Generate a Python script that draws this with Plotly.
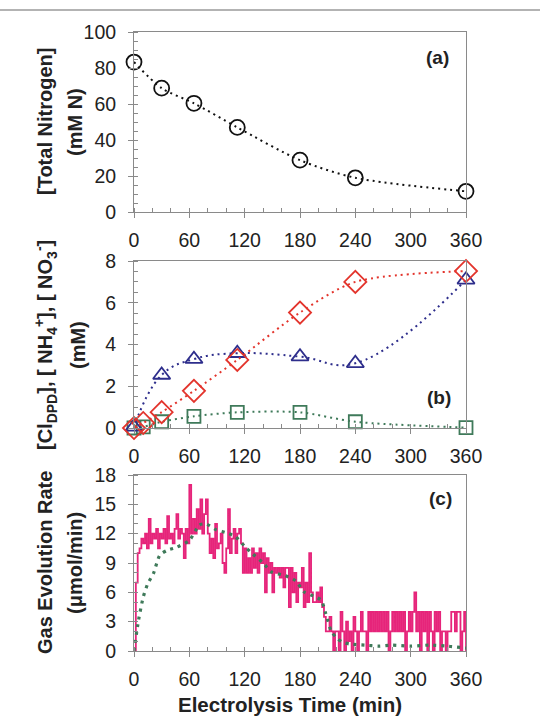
import plotly.graph_objects as go

# ---------------- data ----------------
# Panel (a): total nitrogen
t_a = [0, 30, 65, 112, 180, 240, 360]
total_n = [83.3, 68.8, 60.4, 47.0, 28.8, 19.0, 11.5]

# Panel (b)
t_cl = [0, 10, 30, 65, 112, 180, 240, 360]
cl_dpd = [0.0, 0.24, 0.76, 1.78, 3.26, 5.53, 7.0, 7.52]
t_nh4 = [0, 30, 65, 112, 180, 240, 360]
nh4 = [0.05, 2.54, 3.3, 3.58, 3.42, 3.1, 7.1]
t_no3 = [0, 10, 30, 65, 112, 180, 240, 360]
no3 = [0.0, 0.05, 0.3, 0.56, 0.75, 0.75, 0.3, 0.02]

# Panel (c): measured gas evolution rate (every 2 min)
t_gas = list(range(0, 361, 2))
gas_rate = [
    0, 7, 10, 10.5, 11.5, 11, 12, 10.5, 13.5, 11, 12,
    11.5, 12.5, 10.5, 12, 11.5, 12.5, 11, 13.8, 11.5, 12,
    11, 12.5, 14, 11.5, 12.5, 12, 9.5, 12.5, 11, 17,
    12, 13.5, 12, 14.5, 12.5, 15.5, 12, 14, 15.5, 12,
    10, 11.5, 9.5, 13, 10.5, 11, 12, 9, 8, 10.5,
    14.5, 10, 11.5, 12.5, 10, 12, 12.5, 11, 8, 10.5,
    8, 9.5, 8, 10.5, 8.5, 10, 8, 10.5, 9, 10,
    6, 9.5, 8, 9, 6, 8.5, 8, 8.5, 7.5, 8.5,
    6.5, 8.5, 8.5, 4.5, 8.5, 6, 8, 5, 7, 6.5,
    8.5, 4.5, 7, 5, 10, 6, 5, 5, 6, 5,
    6.5, 4.5, 3.5, 2, 2, 3.5, 2, 0, 2, 2,
    0, 4, 2, 0, 3, 1, 2, 0, 3.5, 2,
    0, 2, 4, 2, 2, 0, 4, 2, 4, 2,
    4, 2, 4, 2, 4, 2, 4, 0, 2, 4,
    2, 4, 2, 4, 2, 4, 0, 2, 4, 2,
    4, 6, 2, 4, 0, 4, 2, 4, 0, 4,
    2, 0, 4, 2, 4, 0, 2, 2, 0, 2,
    2, 4, 4, 2, 4, 4, 0, 2, 4, 0,
]
# Panel (c): model curve
t_model = [0, 5, 10, 15, 21, 28, 36, 46, 60, 71, 78, 89, 100, 110, 121, 128, 140, 149,
           164, 175, 185, 195, 203, 208, 214, 220, 226, 235, 250, 265, 280, 300, 320, 340, 360]
model_rate = [0, 3.2, 5.5, 6.9, 7.9, 9.8, 10.3, 10.6, 11.3, 12.9, 13.0, 12.4, 12.1, 11.7, 10.6,
              10.0, 9.0, 8.1, 7.7, 7.2, 6.0, 5.6, 5.2, 3.8, 2.0, 1.3, 0.9, 0.7, 0.6, 0.5,
              0.6, 0.5, 0.6, 0.5, 0.3]

# ---------------- layout helpers ----------------
W, H = 540, 716
GRAY = "#8a8a8a"
FONT = "Liberation Sans, Arial, sans-serif"
TXT = "#222222"


def fx(p):
    return p / W


def fy(p):
    return 1 - p / H


X_DOM = [fx(134), fx(466)]


def xaxis(anchor):
    return dict(
        domain=X_DOM, anchor=anchor, range=[0, 360], tick0=0, dtick=60,
        ticks="outside", ticklen=5, tickwidth=1, tickcolor=GRAY,
        showline=True, linecolor=GRAY, linewidth=1, mirror=True,
        showgrid=False, zeroline=False, automargin=False,
        minor=dict(tick0=0, dtick=20, ticks="inside", ticklen=4, tickcolor=GRAY, showgrid=False),
        tickfont=dict(family=FONT, size=19.5, color=TXT), ticklabelstandoff=6,
    )


def yaxis(anchor, top, bottom, rng, dtick, mdtick):
    return dict(
        domain=[fy(bottom), fy(top)], anchor=anchor, range=rng, tick0=0, dtick=dtick,
        ticks="outside", ticklen=5, tickwidth=1, tickcolor=GRAY,
        showline=True, linecolor=GRAY, linewidth=1, mirror=True,
        showgrid=False, zeroline=False, automargin=False,
        minor=dict(tick0=0, dtick=mdtick, ticks="inside", ticklen=4, tickcolor=GRAY, showgrid=False),
        tickfont=dict(family=FONT, size=19.5, color=TXT), ticklabelstandoff=8,
    )


fig = go.Figure()

# Panel (a)
fig.add_trace(go.Scatter(
    x=t_a, y=total_n, mode="lines+markers", xaxis="x", yaxis="y", cliponaxis=False,
    line=dict(color="#111111", width=2, dash="2px,4px", shape="spline", smoothing=0.8),
    marker=dict(symbol="circle-open", size=15, color="#111111", line=dict(width=1.8)),
))

# Panel (b)
fig.add_trace(go.Scatter(
    x=t_no3, y=no3, mode="lines+markers", xaxis="x2", yaxis="y2", cliponaxis=False,
    line=dict(color="#3f7a5a", width=2, dash="2px,4px", shape="spline", smoothing=0.8),
    marker=dict(symbol="square-open", size=13, color="#3f7a5a", line=dict(width=1.8)),
))
fig.add_trace(go.Scatter(
    x=t_nh4, y=nh4, mode="lines+markers", xaxis="x2", yaxis="y2", cliponaxis=False,
    line=dict(color="#2e2e8c", width=2, dash="2px,4px", shape="spline", smoothing=1.2),
    marker=dict(symbol="triangle-up-open", size=15, color="#2e2e8c", line=dict(width=1.8)),
))
fig.add_trace(go.Scatter(
    x=t_cl, y=cl_dpd, mode="lines+markers", xaxis="x2", yaxis="y2", cliponaxis=False,
    line=dict(color="#e3342c", width=2, dash="2px,4px", shape="spline", smoothing=0.8),
    marker=dict(symbol="diamond-open", size=17, color="#e3342c", line=dict(width=1.8)),
))

# Panel (c)
fig.add_trace(go.Scatter(
    x=t_gas, y=gas_rate, mode="lines", xaxis="x3", yaxis="y3",
    line=dict(color="#e6247a", width=1.8, shape="hv"),
))
fig.add_trace(go.Scatter(
    x=t_model, y=model_rate, mode="lines", xaxis="x3", yaxis="y3",
    line=dict(color="#3f7a5a", width=3.2, dash="3px,5px", shape="spline", smoothing=0.6),
))

annotations = []


def ann(text, x, y, size=20, angle=0, bold=True):
    annotations.append(dict(
        text=f"<b>{text}</b>" if bold else text, x=fx(x), y=fy(y), xref="paper", yref="paper",
        showarrow=False, textangle=angle, xanchor="center", yanchor="middle",
        font=dict(family=FONT, size=size, color=TXT),
    ))


ann("(a)", 437, 57, size=19)
ann("(b)", 439, 397, size=19)
ann("(c)", 440, 498, size=19)

ann("[Total Nitrogen]", 45, 122, angle=-90)
ann("(mM N)", 75, 122, angle=-90)
ann("[Cl<sub>DPD</sub>], [ NH<sub>4</sub><sup>+</sup>], [ NO<sub>3</sub><sup>-</sup>]", 45, 345, angle=-90)
ann("(mM)", 78, 345, angle=-90)
ann("Gas Evolution Rate", 45, 563, angle=-90)
ann("(\u03bcmol/min)", 75, 563, angle=-90)
ann("Electrolysis Time (min)", 290, 704, size=20.5)

fig.update_layout(
    width=W, height=H, margin=dict(l=0, r=0, t=0, b=0, pad=0), autosize=False,
    paper_bgcolor="white", plot_bgcolor="white", showlegend=False,
    xaxis=xaxis("y"), yaxis=yaxis("x", 32, 212, [0, 100], 20, 5),
    xaxis2=xaxis("y2"), yaxis2=yaxis("x2", 261, 428, [0, 8], 2, 0.5),
    xaxis3=xaxis("y3"), yaxis3=yaxis("x3", 475, 651, [0, 18], 3, 1),
    annotations=annotations,
    shapes=[dict(type="line", xref="paper", yref="paper", x0=0, x1=1, y0=fy(10), y1=fy(10),
                 line=dict(color="#9a9a9a", width=1.5))],
)

fig.write_html("out.html")
